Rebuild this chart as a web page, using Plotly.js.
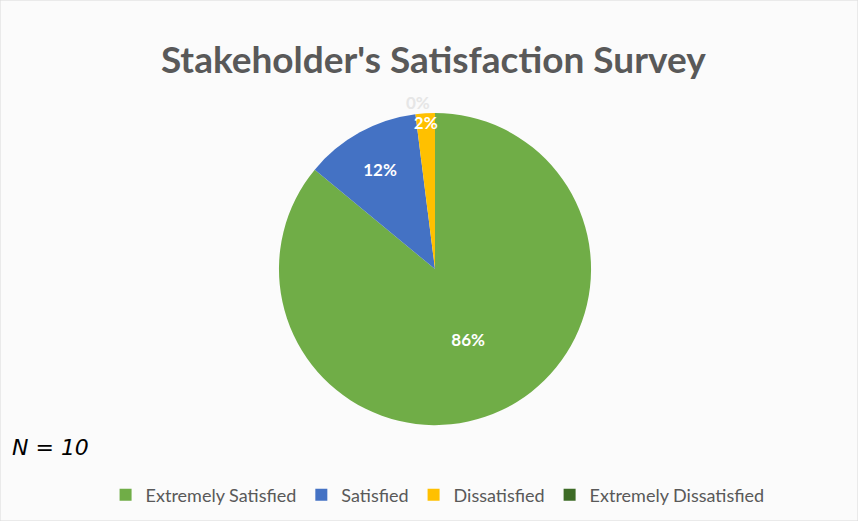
<!DOCTYPE html>
<html>
<head>
<meta charset="utf-8">
<script src="https://cdn.plot.ly/plotly-3.0.1.min.js"></script>
<style>
  html, body { margin: 0; padding: 0; background: #ffffff; }
  #chart { width: 858px; height: 521px; }
</style>
</head>
<body>
<div id="chart"></div>
<script>
var labels = ['Extremely Satisfied', 'Satisfied', 'Dissatisfied', 'Extremely Dissatisfied'];
var shares = [86, 12, 2, 0];
var colors = ['#70AD47', '#4472C4', '#FFC000', '#3D6B26'];

var trace = {
  type: 'pie',
  labels: labels,
  values: shares,
  sort: false,
  direction: 'clockwise',
  rotation: 0,
  marker: { colors: colors, line: { color: '#ffffff', width: 0 } },
  texttemplate: '%{value}%',
  textinfo: 'text',
  textposition: ['inside', 'inside', 'inside', 'outside'],
  insidetextorientation: 'horizontal',
  textfont: { family: 'Lato, sans-serif', size: 17, color: '#ffffff', weight: 'bold' },
  outsidetextfont: { family: 'Lato, sans-serif', size: 17, color: '#e6e6e6', weight: 'bold' },
  domain: { x: [0.157, 0.857], y: [0.184, 0.783] },
  hoverinfo: 'label+percent'
};

var layout = {
  width: 858,
  height: 521,
  paper_bgcolor: '#fbfbfb',
  margin: { l: 0, r: 0, t: 0, b: 0 },
  title: {
    text: "<b>Stakeholder's Satisfaction Survey</b>",
    font: { family: 'Lato, sans-serif', size: 37, color: '#595959' },
    x: 0.505, xanchor: 'center',
    y: 0.885, yanchor: 'middle'
  },
  showlegend: true,
  legend: {
    orientation: 'h',
    x: 0.51, xanchor: 'center',
    y: 0.05, yanchor: 'middle',
    font: { family: 'Lato, sans-serif', size: 18, color: '#595959' },
    itemwidth: 30
  },
  uniformtext: { minsize: 17, mode: 'show' },
  annotations: [{
    xref: 'paper', yref: 'paper',
    x: 0.012, y: 0.142, xanchor: 'left', yanchor: 'middle',
    text: '<i>N = 10</i>',
    showarrow: false,
    font: { family: 'DejaVu Sans, sans-serif', size: 22, color: '#000000' }
  }],
  shapes: [{
    type: 'rect', xref: 'paper', yref: 'paper',
    x0: 0, x1: 1, y0: 0, y1: 1,
    line: { color: '#d9d9d9', width: 1 }
  }]
};

Plotly.newPlot('chart', [trace], layout, { displayModeBar: false });
</script>
</body>
</html>
